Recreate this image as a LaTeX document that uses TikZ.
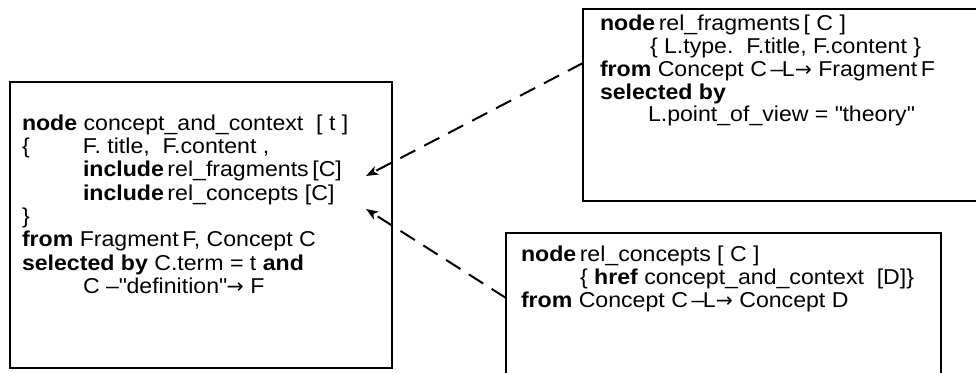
\documentclass[tikz,border=0pt]{standalone}
\usepackage{fontspec}
\setmainfont{Liberation Sans}[FakeStretch=1.075]
\newfontfamily\arrowfont{DejaVu Sans}[Scale=0.95]
\usetikzlibrary{arrows.meta}
\newcommand{\qq}{\textquotedbl}
\newcommand{\rarr}{{\arrowfont →}}
\begin{document}
\begin{tikzpicture}[x=1pt,y=-1pt,
  box/.style={draw,line width=2pt,rectangle,inner sep=0pt,outer sep=0pt},
  txt/.style={anchor=base west,inner sep=0pt,outer sep=0pt,text height=15pt,text depth=4pt,font=\fontsize{21.5}{23}\selectfont},
  link/.style={line width=2pt,dash pattern=on 17pt off 10pt,-{Stealth[length=12pt,width=9pt,inset=3pt]}}]
\useasboundingbox (0,0) rectangle (976,372);
\clip (0,0) rectangle (976,372);
% boxes
\node[box,minimum width=382pt,minimum height=286pt] (L) at (201,225) {};
\node[box,minimum width=407pt,minimum height=192pt] (F) at (786.5,105) {};
\node[box,minimum width=435pt,minimum height=160pt] (R) at (723.5,313) {};
% left box text
\node[txt] (a1) at (22,130) {\textbf{node} concept\_and\_context\ \ [ t ]};
\node[txt] (a2) at (22,153.3) {\makebox[61pt][l]{\{}F. title,\ \ F.content ,};
\node[txt] (a3) at (83,176.7) {\textbf{include}\,rel\_fragments\,[C]};
\node[txt] (a4) at (83,200) {\textbf{include}\,rel\_concepts [C]};
\node[txt] (a5) at (22,223.3) {\}};
\node[txt] (a6) at (22,246.7) {\textbf{from} Fragment\,F, Concept C};
\node[txt] (a7) at (22,270) {\textbf{selected by} C.term = t \textbf{and}};
\node[txt] (a8) at (83,293.3) {C –\qq definition\qq\rarr\ F};
% top right box text
\node[txt] (b1) at (600,30) {\textbf{node}\,rel\_fragments\,[ C ]};
\node[txt] (b2) at (650,53.5) {\{ L.type.\ \ F.title,\ F.content \}};
\node[txt] (b3) at (600,76.5) {\textbf{from} Concept C\,–\kern-1.5ptL\rarr\ Fragment\,F};
\node[txt] (b4) at (600,99) {\textbf{selected by}};
\node[txt] (b5) at (648,121.5) {L.point\_of\_view = \qq theory\qq};
% bottom right box text
\node[txt] (c1) at (521,261) {\textbf{node}\,rel\_concepts [ C ]};
\node[txt] (c2) at (580,284.5) {\{ \textbf{href} concept\_and\_context\ \ [D]\}};
\node[txt] (c3) at (521,307.5) {\textbf{from} Concept C\,–\kern-1.5ptL\rarr\ Concept D};
% connectors
\coordinate (y1) at (0,63);
\coordinate (y2) at (0,298);
\coordinate (t1) at (366,176);
\coordinate (t2) at (366,209);
\draw[link] (F.west |- y1) -- (t1);
\draw[link] (R.west |- y2) -- (t2);
\end{tikzpicture}
\end{document}
